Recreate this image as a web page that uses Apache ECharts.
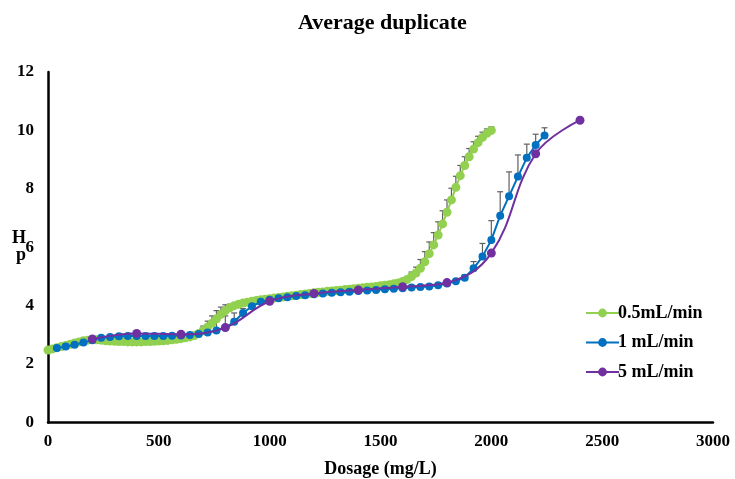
<!DOCTYPE html>
<html>
<head>
<meta charset="utf-8">
<script src="https://cdn.jsdelivr.net/npm/echarts@6/dist/echarts.min.js"></script>
<style>html,body{margin:0;padding:0;background:#fff}#c{width:735px;height:479px}</style>
</head>
<body>
<div id="c"></div>
<script>
const titleText = 'Average duplicate';
const xName = 'Dosage (mg/L)';
const yName = 'H\np';
const seriesNames = ['0.5mL/min', '1 mL/min', '5 mL/min'];
const xTicks = [0, 500, 1000, 1500, 2000, 2500, 3000];
const yTicks = [0, 2, 4, 6, 8, 10, 12];

// 0.5 mL/min : dosage grid 0..2000 step 20
const greenStart = 0, greenStep = 20;
const greenPH = [
 2.48,2.52,2.56,2.60,2.64,2.68,2.72,2.76,2.80,2.82,
 2.84,2.83,2.82,2.80,2.79,2.78,2.77,2.77,2.76,2.76,
 2.76,2.76,2.77,2.77,2.78,2.79,2.80,2.81,2.83,2.85,
 2.87,2.90,2.93,2.98,3.05,3.15,3.27,3.40,3.55,3.70,
 3.83,3.93,4.00,4.05,4.09,4.12,4.15,4.18,4.20,4.22,
 4.24,4.26,4.28,4.30,4.32,4.34,4.36,4.38,4.40,4.42,
 4.44,4.46,4.47,4.49,4.50,4.52,4.53,4.55,4.56,4.58,
 4.60,4.61,4.63,4.64,4.66,4.68,4.70,4.72,4.75,4.78,
 4.83,4.90,5.00,5.12,5.28,5.50,5.78,6.08,6.42,6.80,
 7.20,7.62,8.05,8.45,8.80,9.10,9.36,9.58,9.76,9.90,
 10.00
];
// error bars [dosage, +err]
const greenErr = [
 [700,0.15],[720,0.2],[740,0.25],[760,0.28],[780,0.25],[800,0.2],[820,0.12],
 [1640,0.15],[1660,0.2],[1680,0.3],[1700,0.35],[1720,0.4],[1740,0.42],[1760,0.45],[1780,0.45],
 [1800,0.42],[1820,0.4],[1840,0.38],[1860,0.35],[1880,0.3],[1900,0.28],[1920,0.25],
 [1940,0.22],[1960,0.18],[1980,0.15],[2000,0.12]
];

// 1 mL/min
const blueDose = [40,80,120,160,200,240,280,320,360,400,440,480,520,560,600,640,680,720,760,800,
 840,880,920,960,1000,1040,1080,1120,1160,1200,1240,1280,1320,1360,1400,1440,1480,1520,1560,1600,
 1640,1680,1720,1760,1800,1840,1880,1920,1960,2000,2040,2080,2120,2160,2200,2240];
const bluePH = [2.55,2.60,2.66,2.74,2.82,2.90,2.93,2.95,2.96,2.96,2.96,2.96,2.96,2.97,2.98,3.00,3.03,3.08,3.15,3.25,
 3.45,3.75,3.98,4.13,4.20,4.25,4.29,4.33,4.36,4.39,4.42,4.44,4.46,4.48,4.50,4.52,4.54,4.56,4.58,4.60,
 4.62,4.64,4.66,4.70,4.76,4.84,4.96,5.28,5.68,6.25,7.08,7.75,8.42,9.06,9.50,9.83];
const blueErr = [
 [760,0.3],[800,0.4],[840,0.3],[880,0.15],
 [1880,0.1],[1920,0.23],[1960,0.45],[2000,0.66],[2040,0.82],[2080,0.83],[2120,0.74],[2160,0.47],[2200,0.37],[2240,0.26]
];

// 5 mL/min
const purpleDose = [200,400,600,800,1000,1200,1400,1600,1800,2000,2200,2400];
const purplePH = [2.86,3.05,3.02,3.25,4.15,4.42,4.54,4.65,4.79,5.80,9.20,10.35];

const colors = ['#92D050', '#0070C0', '#7030A0'];
const serif = '"Liberation Serif", "Times New Roman", serif';

const greenData = greenPH.map((v, i) => [greenStart + i * greenStep, v]);
const blueData = blueDose.map((d, i) => [d, bluePH[i]]);
const purpleData = purpleDose.map((d, i) => [d, purplePH[i]]);

function lookup(data, d) {
  const p = data.find(q => q[0] === d);
  return p ? p[1] : null;
}
const greenErrData = greenErr.map(e => [e[0], lookup(greenData, e[0]), e[1]]);
const blueErrData = blueErr.map(e => [e[0], lookup(blueData, e[0]), e[1]]);

function errRender(params, api) {
  const x = api.value(0), y = api.value(1), e = api.value(2);
  const p0 = api.coord([x, y]);
  const p1 = api.coord([x, y + e]);
  const st = { stroke: '#5f5f5f', lineWidth: 1.2 };
  return {
    type: 'group',
    children: [
      { type: 'line', shape: { x1: p0[0], y1: p0[1], x2: p1[0], y2: p1[1] }, style: st },
      { type: 'line', shape: { x1: p1[0] - 3, y1: p1[1], x2: p1[0] + 3, y2: p1[1] }, style: st }
    ]
  };
}

const chart = echarts.init(document.getElementById('c'), null, { renderer: 'canvas' });
chart.setOption({
  animation: false,
  backgroundColor: '#fff',
  title: {
    text: titleText, left: 293, top: 7,
    textStyle: { fontFamily: serif, fontWeight: 'bold', fontSize: 22, color: '#000' }
  },
  legend: {
    data: seriesNames,
    orient: 'vertical',
    left: 580, top: 299,
    itemWidth: 33, itemHeight: 11, itemGap: 11.5,
    textStyle: { fontFamily: serif, fontWeight: 'bold', fontSize: 18, color: '#000', padding: [0,0,0,-6] }
  },
  grid: { left: 48, right: 22, top: 72, bottom: 56.5, containLabel: false, outerBoundsMode: 'none' },
  xAxis: {
    type: 'value', min: xTicks[0], max: xTicks[xTicks.length - 1], interval: 500,
    name: xName, nameLocation: 'middle', nameGap: 38,
    nameTextStyle: { fontFamily: serif, fontWeight: 'bold', fontSize: 18, color: '#000' },
    axisLine: { show: true, lineStyle: { color: '#000', width: 2.5 } },
    axisTick: { show: false },
    splitLine: { show: false },
    axisLabel: { margin: 11, fontFamily: serif, fontWeight: 'bold', fontSize: 17, color: '#000',
      formatter: v => String(v) }
  },
  yAxis: {
    type: 'value', min: yTicks[0], max: yTicks[yTicks.length - 1], interval: 2,
    name: yName, nameLocation: 'middle', nameGap: 22, nameRotate: 0, nameMoveOverlap: false,
    nameTextStyle: { fontFamily: serif, fontWeight: 'bold', fontSize: 18, color: '#000', lineHeight: 17, padding: [2,0,0,0] },
    axisLine: { show: true, lineStyle: { color: '#000', width: 2.5 } },
    axisTick: { show: false },
    splitLine: { show: false },
    axisLabel: { margin: 14, fontFamily: serif, fontWeight: 'bold', fontSize: 17, color: '#000',
      formatter: v => String(v) }
  },
  series: [
    {
      name: seriesNames[0], type: 'line', data: greenData, color: colors[0],
      symbol: 'circle', symbolSize: 9, smooth: false,
      lineStyle: { width: 2, color: colors[0] }, itemStyle: { color: colors[0] }, z: 3
    },
    {
      name: seriesNames[1], type: 'line', data: blueData, color: colors[1],
      symbol: 'circle', symbolSize: 8, smooth: false,
      lineStyle: { width: 2, color: colors[1] }, itemStyle: { color: colors[1] }, z: 4
    },
    {
      name: seriesNames[2], type: 'line', data: purpleData, color: colors[2],
      symbol: 'circle', symbolSize: 9, smooth: 0.4,
      lineStyle: { width: 2, color: colors[2] }, itemStyle: { color: colors[2] }, z: 5
    },
    { type: 'custom', renderItem: errRender, data: greenErrData, z: 2, silent: true, encode: { x: 0, y: 1 } },
    { type: 'custom', renderItem: errRender, data: blueErrData, z: 2, silent: true, encode: { x: 0, y: 1 } }
  ]
});
</script>
</body>
</html>
